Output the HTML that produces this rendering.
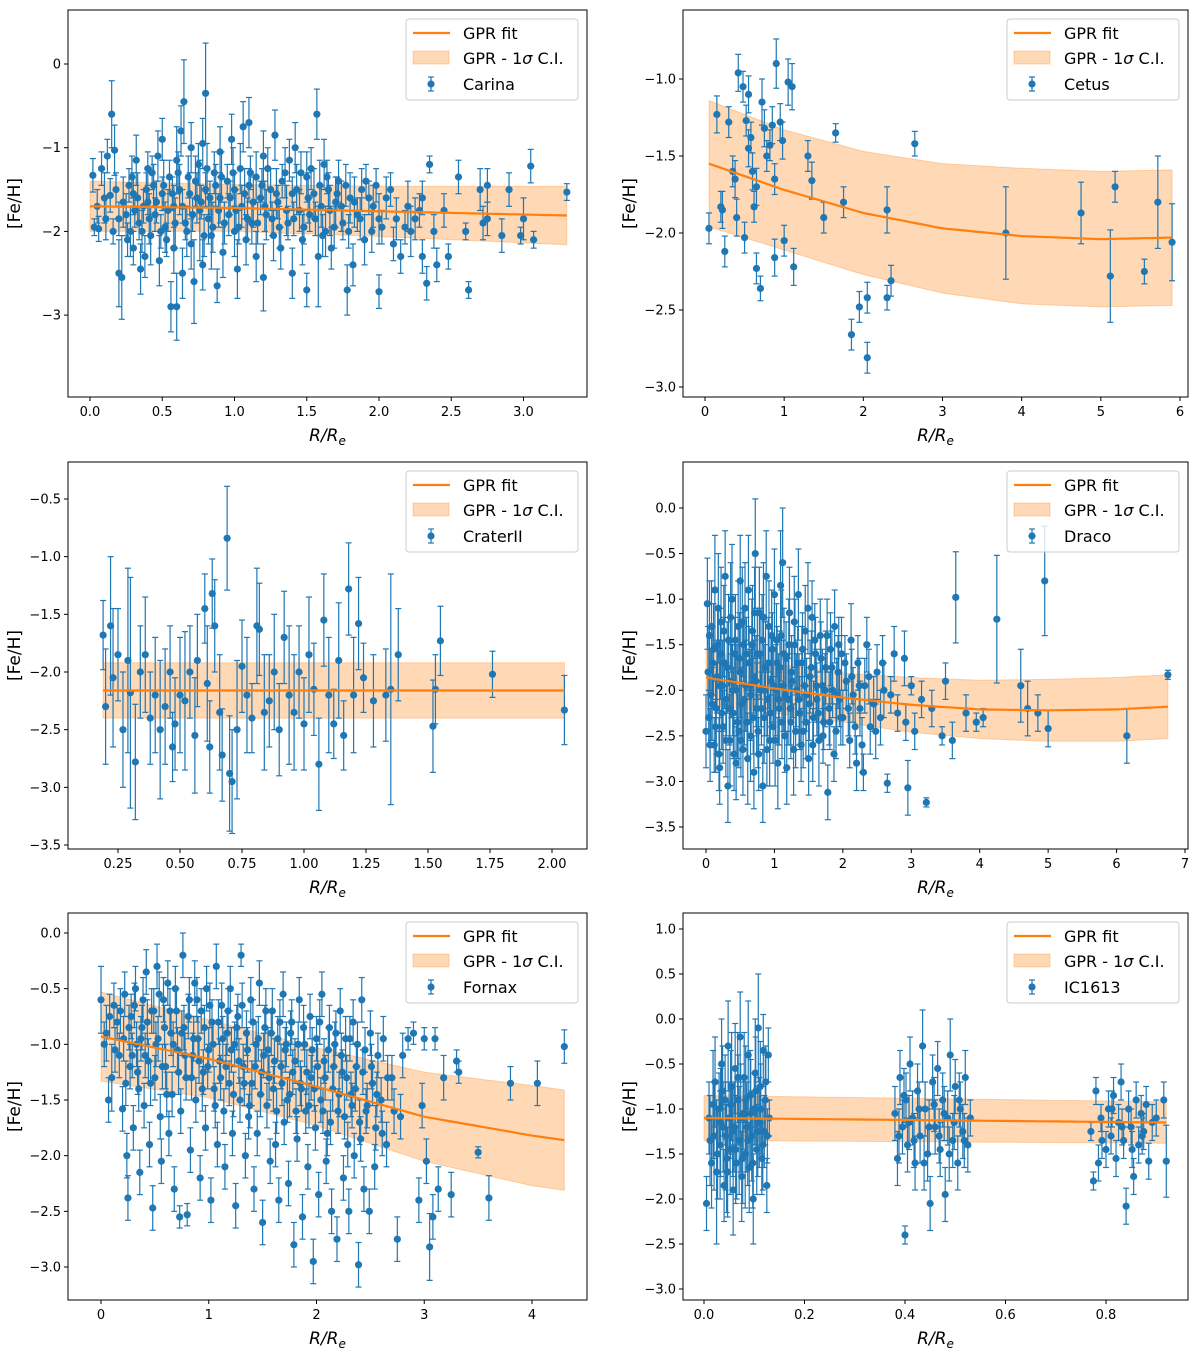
<!DOCTYPE html>
<html><head><meta charset="utf-8">
<style>
html,body{margin:0;padding:0;background:#fff;}
svg{display:block;font-family:"DejaVu Sans","Liberation Sans",sans-serif;}
</style></head>
<body>
<svg id="chart" width="1200" height="1361" viewBox="0 0 1200 1361" xmlns="http://www.w3.org/2000/svg"></svg>
<script>
// ---------- DATA ----------
const carinaPts = [[0.02,-1.33,0.2],[0.03,-1.95,0.1],[0.06,-1.97,0.15],[0.08,-1.25,0.2],[0.1,-1.6,0.3],[0.12,-1.1,0.2],[0.14,-1.57,0.2],[0.15,-0.6,0.4],[0.16,-2.0,0.15],[0.17,-1.03,0.3],[0.2,-2.5,0.4],[0.2,-1.85,0.2],[0.22,-2.55,0.5],[0.25,-1.8,0.25],[0.27,-1.45,0.2],[0.28,-2.0,0.3],[0.3,-1.55,0.25],[0.3,-2.2,0.2],[0.32,-1.15,0.3],[0.34,-1.9,0.2],[0.35,-2.45,0.3],[0.37,-1.7,0.2],[0.38,-2.3,0.25],[0.4,-1.25,0.2],[0.4,-1.65,0.15],[0.42,-2.05,0.35],[0.44,-1.45,0.25],[0.45,-1.8,0.2],[0.47,-1.1,0.3],[0.48,-2.35,0.3],[0.5,-0.9,0.25],[0.5,-1.55,0.2],[0.52,-1.95,0.3],[0.53,-2.1,0.2],[0.55,-1.35,0.2],[0.56,-2.9,0.3],[0.58,-1.7,0.25],[0.58,-2.2,0.3],[0.6,-1.15,0.4],[0.6,-2.9,0.4],[0.62,-1.5,0.3],[0.63,-0.8,0.3],[0.64,-2.5,0.3],[0.65,-0.45,0.5],[0.66,-1.9,0.2],[0.68,-1.35,0.25],[0.7,-2.15,0.3],[0.7,-1.0,0.3],[0.72,-2.6,0.5],[0.74,-1.6,0.3],[0.75,-1.2,0.25],[0.76,-1.75,0.6],[0.78,-0.95,0.3],[0.78,-2.4,0.3],[0.8,-0.35,0.6],[0.8,-1.5,0.2],[0.82,-1.85,0.3],[0.84,-2.05,0.4],[0.86,-1.3,0.25],[0.88,-2.65,0.2],[0.9,-1.6,0.3],[0.9,-1.05,0.3],[0.92,-2.25,0.3],[0.95,-1.4,0.2],[0.96,-1.8,0.25],[0.98,-0.9,0.3],[1.0,-2.0,0.3],[1.0,-1.5,0.2],[1.02,-2.45,0.35],[1.04,-1.25,0.3],[1.05,-1.7,0.25],[1.06,-0.75,0.3],[1.08,-2.1,0.3],[1.1,-1.45,0.2],[1.1,-0.7,0.3],[1.12,-1.9,0.25],[1.15,-1.35,0.3],[1.15,-2.3,0.3],[1.18,-1.6,0.2],[1.2,-2.55,0.4],[1.2,-1.1,0.3],[1.22,-1.8,0.3],[1.25,-1.5,0.25],[1.27,-2.05,0.3],[1.28,-0.85,0.3],[1.3,-1.65,0.2],[1.32,-2.2,0.25],[1.35,-1.3,0.3],[1.37,-1.9,0.2],[1.4,-1.55,0.2],[1.4,-2.5,0.3],[1.42,-1.0,0.3],[1.45,-1.75,0.25],[1.47,-2.1,0.3],[1.5,-1.35,0.3],[1.5,-2.7,0.2],[1.52,-1.8,0.2],[1.55,-1.55,0.3],[1.57,-0.6,0.3],[1.58,-2.3,0.6],[1.6,-1.7,0.25],[1.62,-1.2,0.3],[1.63,-2.0,0.3],[1.65,-1.5,0.2],[1.67,-2.2,0.25],[1.7,-1.65,0.3],[1.72,-1.4,0.25],[1.75,-1.9,0.2],[1.78,-2.7,0.3],[1.8,-1.6,0.3],[1.82,-2.4,0.25],[1.85,-1.8,0.2],[1.88,-1.5,0.25],[1.9,-2.1,0.3],[1.93,-1.6,0.2],[1.95,-2.0,0.25],[1.98,-1.45,0.2],[2.0,-2.72,0.2],[2.0,-1.85,0.3],[2.05,-1.6,0.25],[2.1,-2.15,0.2],[2.12,-1.85,0.25],[2.15,-2.3,0.2],[2.2,-1.7,0.3],[2.22,-2.0,0.3],[2.25,-1.85,0.25],[2.3,-1.6,0.2],[2.3,-2.3,0.2],[2.33,-2.62,0.2],[2.35,-1.2,0.1],[2.38,-2.0,0.2],[2.4,-2.4,0.2],[2.45,-1.75,0.2],[2.48,-2.3,0.15],[2.55,-1.35,0.2],[2.6,-2.0,0.1],[2.62,-2.7,0.1],[2.7,-1.5,0.25],[2.72,-1.9,0.2],[2.75,-1.45,0.2],[2.75,-1.85,0.2],[2.85,-2.05,0.2],[2.9,-1.5,0.2],[2.98,-2.05,0.1],[3.0,-1.85,0.25],[3.05,-1.22,0.2],[3.07,-2.1,0.1],[3.3,-1.53,0.1]];
const carinaPtsB = [[0.05,-1.7,0.2],[0.11,-1.85,0.25],[0.18,-1.5,0.2],[0.23,-1.65,0.3],[0.26,-2.1,0.2],[0.29,-1.35,0.25],[0.31,-1.75,0.2],[0.33,-1.6,0.3],[0.36,-2.0,0.25],[0.39,-1.5,0.2],[0.41,-1.85,0.3],[0.43,-1.3,0.2],[0.46,-1.65,0.25],[0.49,-2.0,0.2],[0.51,-1.45,0.3],[0.54,-1.75,0.25],[0.57,-1.55,0.2],[0.59,-1.9,0.3],[0.61,-1.3,0.25],[0.64,-1.7,0.2],[0.67,-2.0,0.3],[0.69,-1.55,0.25],[0.71,-1.8,0.2],[0.73,-1.4,0.3],[0.77,-1.65,0.2],[0.79,-2.05,0.25],[0.81,-1.25,0.3],[0.83,-1.6,0.2],[0.85,-1.95,0.3],[0.87,-1.45,0.25],[0.89,-1.75,0.2],[0.91,-1.35,0.3],[0.93,-1.9,0.25],[0.97,-1.6,0.2],[0.99,-1.3,0.3],[1.01,-1.75,0.25],[1.03,-1.95,0.2],[1.07,-1.55,0.3],[1.09,-1.85,0.25],[1.11,-1.3,0.2],[1.13,-1.65,0.3],[1.16,-1.9,0.25],[1.19,-1.45,0.2],[1.21,-1.7,0.3],[1.23,-1.25,0.25],[1.26,-1.85,0.2],[1.29,-1.55,0.3],[1.31,-1.95,0.25],[1.33,-1.4,0.2],[1.36,-1.75,0.3],[1.38,-1.15,0.25],[1.41,-1.85,0.2],[1.43,-1.5,0.3],[1.46,-1.3,0.25],[1.48,-1.95,0.2],[1.51,-1.6,0.3],[1.53,-1.25,0.25],[1.56,-1.85,0.2],[1.59,-1.45,0.3],[1.61,-2.05,0.25],[1.64,-1.35,0.2],[1.66,-1.75,0.3],[1.69,-1.95,0.25],[1.71,-1.55,0.2],[1.74,-1.7,0.3],[1.77,-1.45,0.25],[1.79,-2.0,0.2],[1.83,-1.65,0.3],[1.87,-1.85,0.25],[1.91,-1.4,0.2],[1.96,-1.7,0.25],[2.02,-1.95,0.2],[2.08,-1.5,0.2],[2.18,-1.95,0.2],[2.28,-1.75,0.2]];
const cetusPts = [[0.05,-1.97,0.1],[0.15,-1.23,0.12],[0.2,-1.83,0.1],[0.22,-1.85,0.12],[0.25,-2.12,0.1],[0.3,-1.28,0.1],[0.35,-1.6,0.1],[0.38,-1.65,0.12],[0.4,-1.9,0.12],[0.42,-0.96,0.12],[0.48,-1.05,0.1],[0.5,-2.03,0.1],[0.52,-1.27,0.1],[0.55,-1.1,0.12],[0.55,-1.45,0.12],[0.58,-1.38,0.1],[0.6,-1.6,0.12],[0.62,-1.83,0.1],[0.65,-2.23,0.1],[0.65,-1.7,0.12],[0.7,-2.36,0.08],[0.72,-1.15,0.15],[0.75,-1.32,0.12],[0.78,-1.5,0.1],[0.82,-1.43,0.1],[0.85,-1.3,0.12],[0.88,-1.65,0.1],[0.88,-2.16,0.12],[0.9,-0.9,0.16],[0.95,-1.28,0.12],[0.98,-1.4,0.12],[1.0,-2.05,0.1],[1.05,-1.02,0.15],[1.1,-1.05,0.15],[1.12,-2.22,0.12],[1.3,-1.5,0.1],[1.35,-1.66,0.12],[1.5,-1.9,0.1],[1.65,-1.35,0.06],[1.75,-1.8,0.1],[1.85,-2.66,0.1],[1.95,-2.48,0.1],[2.05,-2.42,0.1],[2.05,-2.81,0.1],[2.3,-1.85,0.15],[2.3,-2.42,0.08],[2.35,-2.31,0.1],[2.65,-1.42,0.08],[3.8,-2.0,0.3],[4.75,-1.87,0.2],[5.12,-2.28,0.3],[5.18,-1.7,0.1],[5.55,-2.25,0.08],[5.72,-1.8,0.3],[5.9,-2.06,0.25]];
const craterPts = [[0.19,-1.68,0.3],[0.2,-2.3,0.5],[0.22,-1.6,0.6],[0.23,-2.05,0.6],[0.25,-1.85,0.4],[0.27,-2.5,0.5],[0.29,-1.9,0.8],[0.3,-2.18,1.0],[0.32,-2.78,0.5],[0.34,-2.0,0.4],[0.36,-1.85,0.5],[0.38,-2.4,0.4],[0.4,-2.2,0.5],[0.42,-2.5,0.6],[0.44,-2.3,0.5],[0.46,-2.0,0.4],[0.47,-2.65,0.3],[0.48,-2.45,0.4],[0.5,-2.2,0.5],[0.52,-2.25,0.6],[0.54,-2.0,0.4],[0.56,-2.55,0.5],[0.57,-1.9,0.4],[0.6,-1.45,0.3],[0.61,-2.1,0.5],[0.62,-2.65,0.4],[0.63,-1.32,0.3],[0.64,-1.6,0.4],[0.66,-2.35,0.5],[0.67,-2.72,0.4],[0.69,-0.84,0.45],[0.7,-2.88,0.5],[0.71,-2.95,0.45],[0.73,-2.5,0.6],[0.75,-1.95,0.4],[0.77,-2.2,0.5],[0.79,-2.4,0.3],[0.81,-1.6,0.5],[0.82,-1.63,0.4],[0.84,-2.35,0.5],[0.86,-2.25,0.4],[0.88,-2.0,0.5],[0.9,-2.5,0.4],[0.92,-1.7,0.4],[0.94,-2.2,0.6],[0.96,-2.35,0.5],[0.98,-2.0,0.4],[1.0,-2.45,0.4],[1.02,-1.85,0.5],[1.04,-2.15,0.4],[1.06,-2.8,0.4],[1.08,-1.55,0.4],[1.1,-2.2,0.5],[1.12,-2.45,0.3],[1.14,-1.9,0.5],[1.16,-2.55,0.3],[1.18,-1.28,0.4],[1.2,-2.2,0.5],[1.22,-1.58,0.4],[1.24,-2.05,0.3],[1.28,-2.25,0.4],[1.33,-2.2,0.4],[1.35,-2.15,1.0],[1.38,-1.85,0.4],[1.52,-2.47,0.4],[1.53,-2.15,0.3],[1.55,-1.73,0.3],[1.76,-2.02,0.2],[2.05,-2.33,0.3]];
const dracoPts = [[0.0,-2.45,0.4],[0.02,-1.05,0.5],[0.04,-2.3,0.3],[0.05,-1.4,0.6],[0.07,-2.05,0.5],[0.1,-1.7,0.4],[0.12,-2.6,0.3],[0.13,-0.9,0.6],[0.15,-2.2,0.5],[0.17,-1.5,0.4],[0.2,-2.85,0.4],[0.2,-1.95,0.5],[0.22,-1.25,0.6],[0.25,-2.4,0.4],[0.27,-1.7,0.5],[0.28,-0.75,0.5],[0.3,-2.1,0.4],[0.32,-3.05,0.4],[0.33,-1.45,0.5],[0.35,-2.55,0.5],[0.37,-1.9,0.4],[0.38,-1.0,0.6],[0.4,-2.25,0.5],[0.42,-1.6,0.4],[0.44,-2.8,0.4],[0.45,-2.0,0.5],[0.47,-1.3,0.5],[0.48,-2.45,0.4],[0.5,-0.8,0.5],[0.5,-1.8,0.5],[0.52,-2.15,0.4],[0.54,-2.65,0.5],[0.55,-1.5,0.4],[0.57,-1.1,0.5],[0.58,-1.95,0.5],[0.6,-2.35,0.4],[0.62,-0.9,0.6],[0.63,-1.7,0.4],[0.65,-2.5,0.5],[0.66,-2.05,0.5],[0.68,-1.35,0.5],[0.7,-2.9,0.4],[0.7,-1.85,0.4],[0.72,-0.5,0.6],[0.74,-2.2,0.5],[0.75,-1.6,0.5],[0.77,-2.7,0.4],[0.78,-1.15,0.5],[0.8,-2.0,0.4],[0.82,-1.45,0.5],[0.83,-3.05,0.4],[0.85,-2.3,0.5],[0.87,-1.75,0.5],[0.88,-0.75,0.5],[0.9,-2.1,0.4],[0.92,-1.3,0.5],[0.93,-2.55,0.5],[0.95,-1.9,0.5],[0.97,-1.55,0.4],[0.98,-2.4,0.4],[1.0,-0.95,0.5],[1.02,-2.0,0.5],[1.04,-1.7,0.4],[1.05,-2.8,0.5],[1.07,-2.2,0.4],[1.1,-1.4,0.5],[1.12,-0.6,0.6],[1.13,-1.95,0.5],[1.15,-2.5,0.4],[1.17,-1.65,0.4],[1.2,-2.1,0.5],[1.22,-1.15,0.5],[1.24,-2.35,0.4],[1.25,-1.8,0.4],[1.28,-2.65,0.5],[1.3,-1.5,0.5],[1.32,-2.0,0.4],[1.35,-0.95,0.5],[1.37,-2.25,0.4],[1.4,-1.7,0.4],[1.42,-2.45,0.4],[1.45,-1.35,0.5],[1.47,-2.05,0.4],[1.5,-2.75,0.4],[1.52,-1.85,0.4],[1.55,-1.2,0.4],[1.57,-2.3,0.4],[1.6,-1.6,0.4],[1.62,-2.1,0.4],[1.65,-2.55,0.5],[1.67,-1.4,0.4],[1.7,-1.95,0.4],[1.72,-2.35,0.3],[1.75,-1.75,0.4],[1.78,-3.12,0.3],[1.8,-2.2,0.4],[1.82,-1.55,0.4],[1.85,-2.0,0.3],[1.88,-1.3,0.4],[1.9,-2.45,0.3],[1.93,-1.8,0.4],[1.95,-2.1,0.3],[1.98,-1.6,0.4],[2.0,-2.3,0.3],[2.05,-1.9,0.3],[2.1,-2.55,0.3],[2.12,-1.45,0.4],[2.15,-2.05,0.3],[2.2,-2.8,0.3],[2.22,-1.7,0.3],[2.25,-2.2,0.3],[2.3,-2.9,0.2],[2.32,-1.95,0.3],[2.35,-1.5,0.3],[2.4,-2.4,0.3],[2.45,-2.15,0.3],[2.5,-1.8,0.3],[2.55,-2.3,0.3],[2.6,-2.0,0.3],[2.65,-3.02,0.1],[2.7,-2.05,0.2],[2.75,-1.6,0.3],[2.8,-2.25,0.2],[2.9,-1.65,0.3],[2.92,-2.35,0.2],[2.95,-3.07,0.3],[3.0,-1.95,0.1],[3.05,-2.45,0.2],[3.15,-2.1,0.2],[3.22,-3.23,0.05],[3.3,-2.2,0.2],[3.45,-2.5,0.1],[3.5,-1.9,0.2],[3.6,-2.55,0.2],[3.65,-0.98,0.5],[3.8,-2.25,0.2],[3.95,-2.35,0.1],[4.05,-2.3,0.1],[4.25,-1.22,0.7],[4.6,-1.95,0.4],[4.7,-2.2,0.3],[4.85,-2.25,0.2],[4.95,-0.8,0.6],[5.0,-2.42,0.2],[6.15,-2.5,0.3],[6.75,-1.83,0.05]];
const dracoPtsB = [[0.03,-1.8,0.5],[0.06,-2.6,0.4],[0.08,-1.3,0.5],[0.09,-2.15,0.4],[0.11,-1.55,0.5],[0.14,-2.4,0.5],[0.16,-1.85,0.4],[0.18,-1.1,0.6],[0.19,-2.7,0.4],[0.21,-1.6,0.5],[0.23,-2.25,0.4],[0.24,-1.95,0.5],[0.26,-1.35,0.5],[0.29,-2.55,0.4],[0.31,-1.75,0.5],[0.34,-2.2,0.4],[0.36,-1.2,0.6],[0.39,-2.0,0.5],[0.41,-2.7,0.4],[0.43,-1.45,0.5],[0.46,-2.35,0.4],[0.49,-1.65,0.5],[0.51,-2.55,0.4],[0.53,-1.25,0.6],[0.56,-2.1,0.5],[0.59,-1.6,0.4],[0.61,-2.75,0.5],[0.64,-1.95,0.4],[0.67,-1.5,0.5],[0.69,-2.3,0.4],[0.71,-1.15,0.5],[0.73,-1.9,0.5],[0.76,-2.45,0.4],[0.79,-1.6,0.5],[0.81,-2.2,0.4],[0.84,-1.2,0.6],[0.86,-2.0,0.5],[0.89,-2.65,0.4],[0.91,-1.7,0.5],[0.94,-2.25,0.4],[0.96,-1.4,0.5],[0.99,-1.95,0.4],[1.01,-2.55,0.5],[1.03,-1.45,0.4],[1.06,-2.1,0.5],[1.08,-1.75,0.4],[1.09,-0.85,0.6],[1.11,-2.35,0.4],[1.14,-1.6,0.5],[1.16,-2.05,0.4],[1.18,-2.85,0.4],[1.21,-1.5,0.5],[1.23,-2.2,0.4],[1.26,-1.9,0.4],[1.29,-1.25,0.5],[1.31,-2.45,0.4],[1.34,-1.7,0.4],[1.36,-2.1,0.5],[1.39,-2.6,0.4],[1.41,-1.55,0.4],[1.44,-1.95,0.4],[1.46,-2.35,0.4],[1.49,-1.1,0.5],[1.51,-2.15,0.4],[1.54,-1.75,0.4],[1.56,-2.6,0.4],[1.59,-1.45,0.4],[1.61,-1.95,0.4],[1.64,-2.25,0.3],[1.68,-1.65,0.4],[1.71,-2.5,0.3],[1.74,-2.0,0.4],[1.77,-1.4,0.4],[1.81,-2.35,0.3],[1.84,-1.75,0.4],[1.87,-2.7,0.3],[1.91,-2.05,0.4],[1.94,-1.5,0.3],[1.97,-2.3,0.3],[2.03,-1.7,0.3],[2.08,-2.2,0.3],[2.13,-1.85,0.3],[2.18,-2.4,0.3],[2.24,-1.95,0.3],[2.28,-2.6,0.3],[2.38,-1.85,0.3],[2.48,-2.45,0.3],[2.58,-1.7,0.3]];
const fornaxPts = [[0.0,-0.6,0.3],[0.03,-1.0,0.2],[0.05,-0.9,0.25],[0.07,-1.5,0.2],[0.1,-1.3,0.3],[0.12,-0.65,0.2],[0.15,-0.8,0.15],[0.17,-1.1,0.2],[0.2,-1.58,0.2],[0.22,-0.55,0.2],[0.24,-2.0,0.2],[0.25,-2.38,0.2],[0.27,-1.2,0.2],[0.28,-0.75,0.2],[0.3,-1.75,0.2],[0.32,-0.5,0.2],[0.33,-1.0,0.2],[0.35,-1.4,0.2],[0.36,-2.15,0.2],[0.38,-0.85,0.2],[0.4,-1.55,0.2],[0.42,-0.35,0.2],[0.44,-1.15,0.2],[0.45,-1.9,0.2],[0.47,-0.7,0.2],[0.48,-2.47,0.2],[0.5,-1.3,0.2],[0.52,-0.3,0.2],[0.53,-0.95,0.2],[0.55,-1.65,0.2],[0.56,-2.05,0.2],[0.58,-0.6,0.2],[0.6,-1.2,0.2],[0.62,-0.45,0.2],[0.63,-1.8,0.2],[0.65,-0.9,0.2],[0.66,-1.45,0.2],[0.68,-2.3,0.2],[0.7,-0.7,0.2],[0.71,-1.05,0.2],[0.73,-2.55,0.1],[0.74,-1.6,0.2],[0.76,-0.2,0.2],[0.77,-0.85,0.2],[0.79,-1.3,0.2],[0.8,-2.53,0.1],[0.82,-0.6,0.2],[0.83,-1.95,0.2],[0.85,-1.1,0.2],[0.87,-0.45,0.2],[0.88,-1.5,0.2],[0.9,-0.95,0.2],[0.92,-2.2,0.2],[0.93,-0.7,0.2],[0.95,-1.25,0.2],[0.97,-1.75,0.2],[0.98,-0.5,0.2],[1.0,-1.05,0.2],[1.02,-2.4,0.2],[1.03,-0.8,0.2],[1.05,-1.4,0.2],[1.07,-0.3,0.2],[1.08,-1.9,0.2],[1.1,-1.15,0.2],[1.12,-0.65,0.2],[1.14,-1.6,0.2],[1.15,-2.1,0.2],[1.17,-0.9,0.2],[1.19,-1.35,0.2],[1.2,-0.5,0.2],[1.22,-1.8,0.2],[1.24,-1.0,0.2],[1.25,-2.45,0.2],[1.27,-0.75,0.2],[1.29,-1.5,0.2],[1.3,-0.2,0.1],[1.32,-1.2,0.2],[1.34,-2.0,0.2],[1.35,-0.9,0.2],[1.37,-1.65,0.2],[1.39,-0.6,0.2],[1.4,-1.35,0.2],[1.42,-2.3,0.2],[1.44,-1.0,0.2],[1.45,-1.8,0.2],[1.47,-0.45,0.2],[1.49,-1.25,0.2],[1.5,-2.6,0.2],[1.52,-0.85,0.2],[1.54,-1.55,0.2],[1.55,-1.05,0.2],[1.57,-2.05,0.2],[1.59,-0.7,0.2],[1.6,-1.4,0.2],[1.62,-1.9,0.2],[1.64,-0.95,0.2],[1.65,-2.4,0.2],[1.67,-1.2,0.2],[1.69,-0.55,0.2],[1.7,-1.7,0.2],[1.72,-1.0,0.2],[1.74,-2.25,0.2],[1.75,-1.45,0.2],[1.77,-0.8,0.2],[1.79,-2.8,0.2],[1.8,-1.15,0.2],[1.82,-1.85,0.2],[1.84,-0.6,0.2],[1.85,-1.35,0.2],[1.87,-2.55,0.2],[1.89,-1.0,0.2],[1.9,-1.6,0.2],[1.92,-2.1,0.2],[1.94,-0.75,0.2],[1.95,-1.3,0.2],[1.97,-2.95,0.2],[1.99,-1.75,0.2],[2.0,-0.95,0.2],[2.02,-2.35,0.2],[2.04,-1.5,0.2],[2.05,-0.55,0.2],[2.07,-1.15,0.2],[2.09,-2.05,0.2],[2.1,-1.8,0.2],[2.12,-0.85,0.2],[2.14,-2.5,0.2],[2.15,-1.4,0.2],[2.17,-1.0,0.2],[2.19,-2.75,0.2],[2.2,-1.6,0.2],[2.22,-0.7,0.2],[2.24,-1.25,0.2],[2.25,-2.2,0.2],[2.27,-0.95,0.2],[2.29,-1.9,0.2],[2.3,-2.5,0.2],[2.32,-1.45,0.2],[2.34,-0.8,0.2],[2.35,-2.0,0.2],[2.37,-1.2,0.2],[2.39,-2.98,0.2],[2.4,-1.7,0.2],[2.42,-0.6,0.2],[2.44,-2.3,0.2],[2.45,-1.05,0.2],[2.47,-1.55,0.2],[2.49,-2.5,0.2],[2.5,-0.9,0.2],[2.52,-1.35,0.2],[2.54,-2.1,0.2],[2.55,-1.75,0.2],[2.57,-1.1,0.2],[2.6,-1.5,0.2],[2.62,-0.95,0.2],[2.65,-1.9,0.2],[2.7,-1.3,0.2],[2.75,-2.75,0.2],[2.78,-1.65,0.2],[2.8,-1.1,0.2],[2.85,-0.95,0.1],[2.9,-0.9,0.1],[2.95,-2.4,0.2],[2.98,-1.55,0.2],[3.0,-0.95,0.1],[3.02,-2.05,0.2],[3.05,-2.82,0.3],[3.08,-2.55,0.2],[3.1,-0.95,0.1],[3.13,-2.3,0.2],[3.18,-1.3,0.2],[3.25,-2.35,0.2],[3.3,-1.15,0.1],[3.32,-1.25,0.1],[3.5,-1.97,0.05],[3.6,-2.38,0.2],[3.8,-1.35,0.15],[4.05,-1.35,0.2],[4.3,-1.02,0.15]];
const fornaxPtsB = [[0.08,-0.75,0.2],[0.13,-1.05,0.2],[0.18,-0.7,0.2],[0.21,-0.95,0.2],[0.23,-1.35,0.2],[0.26,-0.85,0.2],[0.29,-1.1,0.2],[0.31,-0.65,0.2],[0.34,-1.25,0.2],[0.37,-0.95,0.2],[0.39,-0.6,0.2],[0.41,-1.1,0.2],[0.43,-0.8,0.2],[0.46,-1.35,0.2],[0.49,-0.7,0.2],[0.51,-1.0,0.2],[0.54,-0.55,0.2],[0.57,-1.2,0.2],[0.59,-0.85,0.2],[0.61,-1.45,0.2],[0.64,-0.7,0.2],[0.67,-1.0,0.2],[0.69,-0.5,0.2],[0.72,-1.25,0.2],[0.75,-0.9,0.2],[0.78,-1.1,0.2],[0.81,-0.75,0.2],[0.84,-1.3,0.2],[0.86,-0.95,0.2],[0.89,-0.6,0.2],[0.91,-1.15,0.2],[0.94,-1.4,0.2],[0.96,-0.85,0.2],[0.99,-1.2,0.2],[1.01,-0.65,0.2],[1.04,-1.0,0.2],[1.06,-1.55,0.2],[1.09,-0.8,0.2],[1.11,-1.3,0.2],[1.13,-0.95,0.2],[1.16,-1.2,0.2],[1.18,-0.7,0.2],[1.21,-1.05,0.2],[1.23,-1.45,0.2],[1.26,-0.85,0.2],[1.28,-1.15,0.2],[1.31,-0.65,0.2],[1.33,-1.35,0.2],[1.36,-1.05,0.2],[1.38,-1.55,0.2],[1.41,-0.8,0.2],[1.43,-1.2,0.2],[1.46,-0.95,0.2],[1.48,-1.45,0.2],[1.51,-1.1,0.2],[1.53,-0.7,0.2],[1.56,-1.3,0.2],[1.58,-0.9,0.2],[1.61,-1.15,0.2],[1.63,-1.6,0.2],[1.66,-0.8,0.2],[1.68,-1.35,0.2],[1.71,-1.05,0.2],[1.73,-1.5,0.2],[1.76,-0.9,0.2],[1.78,-1.25,0.2],[1.81,-1.6,0.2],[1.83,-1.0,0.2],[1.86,-1.4,0.2],[1.88,-0.85,0.2],[1.91,-1.25,0.2],[1.93,-1.55,0.2],[1.96,-1.05,0.2],[1.98,-1.4,0.2],[2.01,-1.2,0.2],[2.03,-0.8,0.2],[2.06,-1.6,0.2],[2.08,-1.3,0.2],[2.11,-1.05,0.2],[2.13,-1.7,0.2],[2.16,-1.2,0.2],[2.18,-0.9,0.2],[2.21,-1.45,0.2],[2.23,-1.1,0.2],[2.26,-1.65,0.2],[2.28,-1.3,0.2],[2.31,-0.95,0.2],[2.33,-1.55,0.2],[2.36,-1.4,0.2],[2.38,-1.0,0.2],[2.41,-1.85,0.2],[2.43,-1.25,0.2],[2.46,-1.6,0.2],[2.51,-1.2,0.2],[2.56,-1.45,0.2],[2.61,-1.8,0.2],[2.66,-1.3,0.2],[2.72,-1.6,0.2]];
const icPts = [[0.005,-2.05,0.3],[0.01,-1.1,0.4],[0.015,-1.6,0.5],[0.02,-1.3,0.6],[0.022,-0.7,0.5],[0.025,-1.7,0.8],[0.03,-1.0,0.4],[0.032,-1.4,0.6],[0.035,-0.5,0.5],[0.038,-1.2,0.5],[0.04,-1.85,0.4],[0.042,-0.9,0.5],[0.045,-1.55,0.6],[0.048,-0.3,0.5],[0.05,-1.1,0.4],[0.052,-1.45,0.5],[0.055,-0.75,0.6],[0.058,-1.9,0.5],[0.06,-1.2,0.5],[0.062,-0.55,0.5],[0.065,-1.6,0.4],[0.068,-0.9,0.5],[0.07,-1.35,0.6],[0.072,-0.2,0.5],[0.075,-1.75,0.5],[0.078,-1.05,0.4],[0.08,-0.65,0.5],[0.082,-1.5,0.6],[0.085,-1.2,0.5],[0.088,-0.4,0.6],[0.09,-1.65,0.5],[0.092,-0.85,0.5],[0.095,-1.3,0.5],[0.098,-2.0,0.5],[0.1,-1.0,0.4],[0.102,-0.6,0.6],[0.105,-1.45,0.5],[0.108,-0.1,0.6],[0.11,-1.15,0.5],[0.112,-0.75,0.5],[0.115,-1.55,0.4],[0.118,-0.35,0.4],[0.12,-1.25,0.4],[0.122,-0.9,0.5],[0.125,-1.85,0.3],[0.128,-0.4,0.3],[0.13,-1.1,0.2],[0.38,-1.05,0.3],[0.385,-1.55,0.3],[0.39,-0.65,0.3],[0.395,-1.2,0.3],[0.4,-2.4,0.1],[0.402,-0.9,0.3],[0.405,-1.4,0.3],[0.41,-0.5,0.3],[0.415,-1.1,0.3],[0.42,-1.6,0.3],[0.425,-0.8,0.3],[0.43,-1.3,0.3],[0.435,-0.3,0.4],[0.44,-1.0,0.3],[0.445,-1.5,0.3],[0.45,-2.05,0.3],[0.455,-0.7,0.3],[0.46,-1.2,0.3],[0.465,-0.55,0.3],[0.47,-1.45,0.3],[0.475,-0.9,0.3],[0.48,-1.95,0.3],[0.485,-1.1,0.3],[0.49,-0.4,0.4],[0.495,-1.35,0.3],[0.5,-0.75,0.3],[0.505,-1.6,0.3],[0.51,-1.0,0.3],[0.515,-1.25,0.3],[0.52,-0.65,0.3],[0.525,-1.4,0.3],[0.53,-1.1,0.2],[0.77,-1.25,0.1],[0.775,-1.8,0.1],[0.78,-0.8,0.15],[0.785,-1.6,0.2],[0.79,-1.1,0.15],[0.8,-1.45,0.2],[0.805,-1.0,0.2],[0.81,-1.3,0.2],[0.815,-0.85,0.2],[0.82,-1.55,0.2],[0.825,-1.15,0.2],[0.83,-0.7,0.2],[0.835,-1.35,0.2],[0.84,-2.08,0.2],[0.845,-1.0,0.2],[0.85,-1.2,0.2],[0.855,-1.75,0.2],[0.86,-0.9,0.2],[0.865,-1.4,0.2],[0.87,-1.05,0.2],[0.875,-1.25,0.2],[0.88,-0.95,0.2],[0.885,-1.58,0.2],[0.9,-1.1,0.2],[0.915,-0.9,0.2],[0.92,-1.58,0.4]];
const icPtsB = [[0.012,-1.35,0.5],[0.018,-0.95,0.6],[0.027,-1.5,0.5],[0.033,-1.15,0.6],[0.037,-0.8,0.5],[0.043,-1.3,0.6],[0.047,-1.7,0.5],[0.053,-0.95,0.6],[0.057,-1.25,0.5],[0.063,-1.45,0.6],[0.067,-0.65,0.5],[0.073,-1.1,0.6],[0.077,-1.55,0.5],[0.083,-0.9,0.6],[0.087,-1.35,0.5],[0.093,-1.05,0.6],[0.097,-1.6,0.5],[0.103,-0.8,0.6],[0.107,-1.25,0.5],[0.113,-1.0,0.5],[0.117,-1.4,0.5],[0.123,-0.7,0.4],[0.126,-1.3,0.3],[0.388,-1.3,0.3],[0.398,-0.85,0.3],[0.408,-1.15,0.3],[0.418,-1.35,0.3],[0.428,-1.0,0.3],[0.438,-1.6,0.3],[0.448,-1.2,0.3],[0.458,-0.95,0.3],[0.468,-1.3,0.3],[0.478,-1.05,0.3],[0.488,-1.5,0.3],[0.498,-1.15,0.3],[0.508,-0.9,0.3],[0.518,-1.35,0.3],[0.792,-1.35,0.2],[0.812,-1.0,0.2],[0.832,-1.2,0.2],[0.852,-1.45,0.2],[0.872,-1.3,0.2],[0.892,-1.15,0.2]];

const carinaFitX=[0,1,2,3.3], carinaFitY=[-1.7,-1.72,-1.76,-1.81], carinaBand=[0.3,0.28,0.3,0.35];
const cetusFitX=[0.05,1,2,3,4,5,5.9], cetusFitY=[-1.55,-1.72,-1.87,-1.97,-2.02,-2.04,-2.03], cetusBand=[0.41,0.39,0.4,0.42,0.44,0.44,0.44];
const craterFitX=[0.19,2.05], craterFitY=[-2.16,-2.16], craterBand=[0.24,0.24];
const dracoFitX=[0,1,2,3,4,5,6,6.75], dracoFitY=[-1.86,-1.98,-2.08,-2.16,-2.21,-2.22,-2.21,-2.18], dracoBand=[0.3,0.27,0.27,0.3,0.32,0.34,0.35,0.35];
const fornaxFitX=[0,1,2,3,4,4.3], fornaxFitY=[-0.93,-1.13,-1.38,-1.65,-1.82,-1.86], fornaxBand=[0.4,0.35,0.35,0.4,0.45,0.45];
const icFitX=[0,0.92], icFitY=[-1.1,-1.15], icBand=[0.25,0.23];

const carinaXTicks=[0,0.5,1,1.5,2,2.5,3], carinaXLabels=["0.0","0.5","1.0","1.5","2.0","2.5","3.0"];
const carinaYTicks=[0,-1,-2,-3], carinaYLabels=["0","−1","−2","−3"];
const cetusXTicks=[0,1,2,3,4,5,6], cetusXLabels=["0","1","2","3","4","5","6"];
const cetusYTicks=[-1,-1.5,-2,-2.5,-3], cetusYLabels=["−1.0","−1.5","−2.0","−2.5","−3.0"];
const craterXTicks=[0.25,0.5,0.75,1,1.25,1.5,1.75,2], craterXLabels=["0.25","0.50","0.75","1.00","1.25","1.50","1.75","2.00"];
const craterYTicks=[-0.5,-1,-1.5,-2,-2.5,-3,-3.5], craterYLabels=["−0.5","−1.0","−1.5","−2.0","−2.5","−3.0","−3.5"];
const dracoXTicks=[0,1,2,3,4,5,6,7], dracoXLabels=["0","1","2","3","4","5","6","7"];
const dracoYTicks=[0,-0.5,-1,-1.5,-2,-2.5,-3,-3.5], dracoYLabels=["0.0","−0.5","−1.0","−1.5","−2.0","−2.5","−3.0","−3.5"];
const fornaxXTicks=[0,1,2,3,4], fornaxXLabels=["0","1","2","3","4"];
const fornaxYTicks=[0,-0.5,-1,-1.5,-2,-2.5,-3], fornaxYLabels=["0.0","−0.5","−1.0","−1.5","−2.0","−2.5","−3.0"];
const icXTicks=[0,0.2,0.4,0.6,0.8], icXLabels=["0.0","0.2","0.4","0.6","0.8"];
const icYTicks=[1,0.5,0,-0.5,-1,-1.5,-2,-2.5,-3], icYLabels=["1.0","0.5","0.0","−0.5","−1.0","−1.5","−2.0","−2.5","−3.0"];

// ---------- LAYOUT ----------
const panels = [
 {id:"carina",label:"Carina",box:[68,10,587,397],xa:[0,90,1,234.5],ya:[0,64,-1,147.7],pts:carinaPts.concat(carinaPtsB),fx:carinaFitX,fy:carinaFitY,fb:carinaBand,xt:carinaXTicks,xl:carinaXLabels,yt:carinaYTicks,yl:carinaYLabels},
 {id:"cetus",label:"Cetus",box:[683,10,1188,397],xa:[0,705,6,1180],ya:[-1,79,-3,387],pts:cetusPts,fx:cetusFitX,fy:cetusFitY,fb:cetusBand,xt:cetusXTicks,xl:cetusXLabels,yt:cetusYTicks,yl:cetusYLabels},
 {id:"craterii",label:"CraterII",box:[68,462,587,849],xa:[0.25,118,2,552],ya:[-0.5,499,-3.5,845],pts:craterPts,fx:craterFitX,fy:craterFitY,fb:craterBand,xt:craterXTicks,xl:craterXLabels,yt:craterYTicks,yl:craterYLabels},
 {id:"draco",label:"Draco",box:[683,462,1188,849],xa:[0,706,7,1185],ya:[0,508,-3.5,827],pts:dracoPts.concat(dracoPtsB),fx:dracoFitX,fy:dracoFitY,fb:dracoBand,xt:dracoXTicks,xl:dracoXLabels,yt:dracoYTicks,yl:dracoYLabels},
 {id:"fornax",label:"Fornax",box:[68,913,587,1300],xa:[0,101,4,532],ya:[0,933,-3,1267],pts:fornaxPts.concat(fornaxPtsB),fx:fornaxFitX,fy:fornaxFitY,fb:fornaxBand,xt:fornaxXTicks,xl:fornaxXLabels,yt:fornaxYTicks,yl:fornaxYLabels},
 {id:"ic1613",label:"IC1613",box:[683,913,1188,1300],xa:[0,704,0.8,1106],ya:[1,929,-3,1289],pts:icPts.concat(icPtsB),fx:icFitX,fy:icFitY,fb:icBand,xt:icXTicks,xl:icXLabels,yt:icYTicks,yl:icYLabels}
];

const NS="http://www.w3.org/2000/svg";
const svg=document.getElementById('chart');
function mk(tag,parent,attrs){const e=document.createElementNS(NS,tag);for(const k in attrs)e.setAttribute(k,attrs[k]);parent.appendChild(e);return e;}
function lerp(xs,ys,x){if(x<=xs[0])return ys[0];for(let i=1;i<xs.length;i++){if(x<=xs[i]){const t=(x-xs[i-1])/(xs[i]-xs[i-1]);return ys[i-1]+t*(ys[i]-ys[i-1]);}}return ys[ys.length-1];}

panels.forEach(p=>{
  const [L,T,R,B]=p.box;
  const sx=v=>p.xa[1]+(v-p.xa[0])*(p.xa[3]-p.xa[1])/(p.xa[2]-p.xa[0]);
  const sy=v=>p.ya[1]+(v-p.ya[0])*(p.ya[3]-p.ya[1])/(p.ya[2]-p.ya[0]);
  const g=mk('g',svg,{});
  
  
  const clipId='clip-'+p.id;
  const cp=mk('clipPath',g,{id:clipId}); mk('rect',cp,{x:L,y:T,width:R-L,height:B-T});
  const plot=mk('g',g,{'clip-path':'url(#'+clipId+')'});
  const x0=p.fx[0], x1=p.fx[p.fx.length-1], N=80;
  let up=[],lo=[],ln=[];
  for(let i=0;i<=N;i++){const x=x0+(x1-x0)*i/N;const m=lerp(p.fx,p.fy,x),h=lerp(p.fx,p.fb,x);
    up.push(sx(x).toFixed(1)+','+sy(m+h).toFixed(1));lo.push(sx(x).toFixed(1)+','+sy(m-h).toFixed(1));ln.push(sx(x).toFixed(1)+','+sy(m).toFixed(1));}
  const band=mk('polygon',plot,{points:up.concat(lo.reverse()).join(' '),fill:'#ff7f0e','fill-opacity':'0.3',stroke:'#ff7f0e','stroke-opacity':'0.3','stroke-width':'1'});
  
  
  const pg=mk('g',plot,{});
  
  
  p.pts.forEach(d=>{
    const cx=sx(d[0]),y1=sy(d[1]+d[2]),y2=sy(d[1]-d[2]);
    mk('line',pg,{x1:cx,x2:cx,y1:y1,y2:y2,stroke:'#1f77b4','stroke-width':'1.2'});
    mk('line',pg,{x1:cx-3,x2:cx+3,y1:y1,y2:y1,stroke:'#1f77b4','stroke-width':'1.2'});
    mk('line',pg,{x1:cx-3,x2:cx+3,y1:y2,y2:y2,stroke:'#1f77b4','stroke-width':'1.2'});
    const c=mk('circle',pg,{cx:cx,cy:sy(d[1]),r:3.6,fill:'#1f77b4'});
    
    
  });
  const fl=mk('polyline',plot,{points:ln.join(' '),fill:'none',stroke:'#ff7f0e','stroke-width':'2.2'});
  
  
  mk('rect',g,{x:L,y:T,width:R-L,height:B-T,fill:'none',stroke:'#000','stroke-width':'1'});
  p.xt.forEach((v,i)=>{const x=sx(v);mk('line',g,{x1:x,x2:x,y1:B,y2:B+4,stroke:'#000','stroke-width':'1'});
    const t=mk('text',g,{x:x,y:B+19,'font-size':'13','text-anchor':'middle',fill:'#000'});t.textContent=p.xl[i];
    
    });
  p.yt.forEach((v,i)=>{const y=sy(v);mk('line',g,{x1:L-4,x2:L,y1:y,y2:y,stroke:'#000','stroke-width':'1'});
    const t=mk('text',g,{x:L-7,y:y+4.5,'font-size':'13','text-anchor':'end',fill:'#000'});t.textContent=p.yl[i];
    
    });
  const xt=mk('text',g,{x:(L+R)/2,y:B+44,'font-size':'17','text-anchor':'middle',fill:'#000','font-style':'italic'});
  xt.innerHTML='R/R<tspan font-size="12" dy="4">e</tspan>';
  
  
  const yx=L-48, yy=(T+B)/2;
  const yt=mk('text',g,{x:yx,y:yy,'font-size':'17','text-anchor':'middle',fill:'#000',transform:'rotate(-90 '+yx+' '+yy+')'});
  yt.textContent='[Fe/H]';
  
  
  const lx=R-181, ly=T+9;
  const lg=mk('g',g,{});
  
  
  mk('rect',lg,{x:lx,y:ly,width:172,height:81,rx:3,fill:'#fff','fill-opacity':'0.8',stroke:'#ccc','stroke-width':'1'});
  mk('line',lg,{x1:lx+7,x2:lx+44,y1:ly+14,y2:ly+14,stroke:'#ff7f0e','stroke-width':'2.2'});
  mk('rect',lg,{x:lx+7,y:ly+32,width:36,height:13,fill:'#ff7f0e','fill-opacity':'0.3',stroke:'#ff7f0e','stroke-opacity':'0.3'});
  mk('line',lg,{x1:lx+25,x2:lx+25,y1:ly+58,y2:ly+72,stroke:'#1f77b4','stroke-width':'1.2'});
  mk('line',lg,{x1:lx+22,x2:lx+28,y1:ly+58,y2:ly+58,stroke:'#1f77b4','stroke-width':'1.2'});
  mk('line',lg,{x1:lx+22,x2:lx+28,y1:ly+72,y2:ly+72,stroke:'#1f77b4','stroke-width':'1.2'});
  mk('circle',lg,{cx:lx+25,cy:ly+65,r:3.6,fill:'#1f77b4'});
  const t1=mk('text',lg,{x:lx+57,y:ly+20,'font-size':'16',fill:'#000'});t1.textContent='GPR fit';
  
  
  const t2=mk('text',lg,{x:lx+57,y:ly+45,'font-size':'16',fill:'#000'});t2.innerHTML='GPR - 1<tspan font-style="italic">σ</tspan> C.I.';
  
  
  const t3=mk('text',lg,{x:lx+57,y:ly+71,'font-size':'16',fill:'#000'});t3.textContent=p.label;
  
  
});
</script>
</body></html>
